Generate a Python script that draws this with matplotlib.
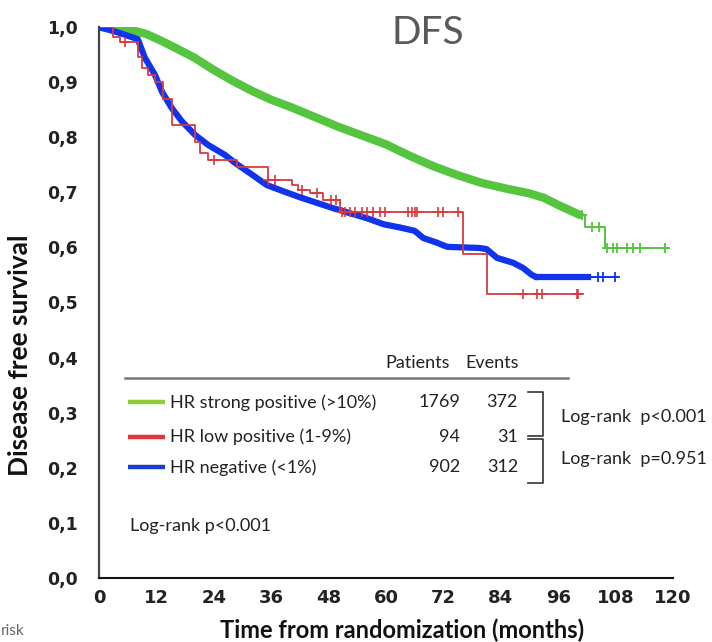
import numpy as np
import matplotlib
matplotlib.use("Agg")
import matplotlib.pyplot as plt

# Kaplan-Meier curves (months, survival)
strong_t = [0, 4, 7, 10, 13, 16, 20, 24, 28, 32, 36, 40, 45, 50, 55, 60, 65, 70, 75,
            80, 85, 90, 93, 96, 98.5, 100.5, 101.5, 105.8, 118.7]
strong_s = [1.0, 0.998, 0.994, 0.987, 0.975, 0.962, 0.944, 0.922, 0.902, 0.884, 0.868,
            0.855, 0.837, 0.819, 0.803, 0.787, 0.766, 0.747, 0.731, 0.717, 0.707, 0.698,
            0.690, 0.677, 0.667, 0.659, 0.637, 0.599, 0.599]
strong_cens = [101.0, 103.0, 104.5, 106.2, 107.5, 108.3, 110.4, 111.6, 113.1, 118.3]

low_t = [0, 3.0, 4.4, 8.1, 8.9, 10.3, 11.7, 13.3, 15.2, 20.0, 21.1, 22.8, 28.8, 35.3,
         40.3, 41.5, 44.1, 46.8, 50.4, 76.2, 81.1, 101.2]
low_s = [1.0, 0.982, 0.973, 0.946, 0.925, 0.913, 0.901, 0.870, 0.822, 0.792, 0.771,
         0.759, 0.746, 0.722, 0.713, 0.704, 0.699, 0.686, 0.664, 0.588, 0.515, 0.515]
low_cens = [5.5, 24.0, 35.3, 36.8, 42.5, 45.5, 48.5, 49.5, 50.8, 51.4, 52.5, 53.5, 55.0,
            56.0, 57.3, 58.7, 59.8, 64.6, 65.4, 66.1, 66.5, 70.9, 72.0, 75.0, 88.6,
            91.5, 92.6, 100.0, 100.2]

neg_t = [0, 4, 8.1, 9.6, 11.7, 13.2, 15.2, 17.4, 20.1, 22.8, 26.3, 28.5, 31.5, 35.1,
         38.5, 42, 45.5, 49, 52.5, 56, 59.5, 63, 66, 67.8, 70.5, 72.8, 79.5, 81, 83.2,
         86.6, 88.6, 90.5, 91.5, 108.3]
neg_s = [1.0, 0.99, 0.978, 0.944, 0.913, 0.882, 0.853, 0.828, 0.804, 0.786, 0.768,
         0.753, 0.735, 0.713, 0.702, 0.691, 0.681, 0.671, 0.662, 0.653, 0.642, 0.636,
         0.630, 0.617, 0.609, 0.601, 0.599, 0.597, 0.581, 0.572, 0.563, 0.550, 0.546,
         0.546]
neg_cens = [104.4, 105.4, 107.9]

groups = ["HR strong positive (>10%)", "HR low positive (1-9%)", "HR negative (<1%)"]
patients = [1769, 94, 902]
events = [372, 31, 312]

x_ticks = [0, 12, 24, 36, 48, 60, 72, 84, 96, 108, 120]
y_ticks = [0.0, 0.1, 0.2, 0.3, 0.4, 0.5, 0.6, 0.7, 0.8, 0.9, 1.0]

GREEN = "#55c43f"
RED = "#d93a40"
BLUE = "#1034ee"
TXT = "Lato"
INK = "#222222"


def km_at(t, s, times):
    t = np.asarray(t)
    s = np.asarray(s)
    idx = np.searchsorted(t, times, side="right") - 1
    return s[idx]


def split(t, s, cut):
    # dense part (heavy censoring -> thick band) and sparse tail
    t = np.asarray(t)
    s = np.asarray(s)
    return t[t <= cut], s[t <= cut], t[t >= cut], s[t >= cut]


fig = plt.figure(figsize=(7.12, 6.42), dpi=100)
ax = fig.add_axes([99 / 712, 64 / 642, 574 / 712, 551 / 642])

gt, gs, gt2, gs2 = split(strong_t, strong_s, 100.5)
ax.plot(gt, gs, color=GREEN, lw=6, solid_capstyle="round")
ax.step(gt2, gs2, where="post", color=GREEN, lw=1.4)

bt, bs, bt2, bs2 = split(neg_t, neg_s, 91.5)
ax.plot(bt, bs, color=BLUE, lw=4.5, solid_capstyle="round")
ax.plot([91.5, 102.3], km_at(neg_t, neg_s, [91.5, 102.3]), color=BLUE, lw=4.5)
ax.step(bt2, bs2, where="post", color=BLUE, lw=1.4)

ax.step(low_t, low_s, where="post", color=RED, lw=1.3)

ax.plot(strong_cens, km_at(strong_t, strong_s, strong_cens), ls="none",
        marker="+", ms=7, mew=1.3, color=GREEN)
ax.plot(neg_cens, km_at(neg_t, neg_s, neg_cens), ls="none",
        marker="+", ms=7, mew=1.3, color=BLUE)
ax.plot(low_cens, km_at(low_t, low_s, low_cens), ls="none",
        marker="+", ms=7, mew=1.2, color=RED)

ax.set_xlim(0, 120)
ax.set_ylim(0, 1.0)
ax.set_xticks(x_ticks)
ax.set_yticks(y_ticks)
ax.set_xticklabels([str(v) for v in x_ticks], fontsize=13, fontweight="bold",
                   family="DejaVu Sans", color=INK)
ax.set_yticklabels([f"{v:.1f}".replace(".", ",") for v in y_ticks], fontsize=12.5,
                   fontweight="bold", family="DejaVu Sans", color=INK)
ax.tick_params(axis="x", length=0, pad=8)
ax.tick_params(axis="y", length=0, pad=15)
for side in ["top", "right"]:
    ax.spines[side].set_visible(False)
ax.spines["left"].set_color("#444444")
ax.spines["left"].set_linewidth(1.6)
ax.spines["bottom"].set_color("#111111")
ax.spines["bottom"].set_linewidth(1.5)

# table / legend
ax.text(59.8, 0.39, "Patients", family=TXT, fontsize=13, va="center", color=INK)
ax.text(76.5, 0.39, "Events", family=TXT, fontsize=13, va="center", color=INK)
ax.plot([5.4, 98.0], [0.363, 0.363], color="#777777", lw=1.8, clip_on=False)
row_y = [0.319, 0.256, 0.201]
for y, name, col, p, e in zip(row_y, groups, ["#8fcb3a", "#e2363a", "#1a3ccc"],
                              patients, events):
    ax.plot([6.1, 13.8], [y, y], color=col, lw=3.2, solid_capstyle="butt")
    ax.text(14.8, y, name, family=TXT, fontsize=13, va="center", color=INK)
    ax.text(75.5, y, str(p), family=TXT, fontsize=13, va="center", ha="right", color=INK)
    ax.text(87.6, y, str(e), family=TXT, fontsize=13, va="center", ha="right", color=INK)

for top, bot in [(0.338, 0.258), (0.252, 0.172)]:
    ax.plot([89.7, 92.8, 92.8, 89.7], [top, top, bot, bot], color="#333333",
            lw=1.2, clip_on=False)
ax.text(96.6, 0.293, "Log-rank  p<0.001", family=TXT, fontsize=13, va="center",
        color=INK, clip_on=False)
ax.text(96.6, 0.216, "Log-rank  p=0.951", family=TXT, fontsize=13, va="center",
        color=INK, clip_on=False)
ax.text(6.5, 0.094, "Log-rank p<0.001", family=TXT, fontsize=13, va="center", color=INK)

fig.text(428 / 712, 1 - 33 / 642, "DFS", family=TXT, fontsize=28, color="#595959",
         ha="center", va="center")
fig.text(20 / 712, 1 - 355 / 642, "Disease free survival", family=TXT, fontsize=19,
         fontweight="bold", rotation=90, ha="center", va="center", color="#111111")
fig.text(402 / 712, 1 - 630 / 642, "Time from randomization (months)", family=TXT,
         fontsize=17, fontweight="bold", ha="center", va="center", color="#111111")
fig.text(1 / 712, 1 - 631 / 642, "risk", family=TXT, fontsize=11, color="#666666",
         ha="left", va="center")

fig.savefig("out.png", dpi=100)
